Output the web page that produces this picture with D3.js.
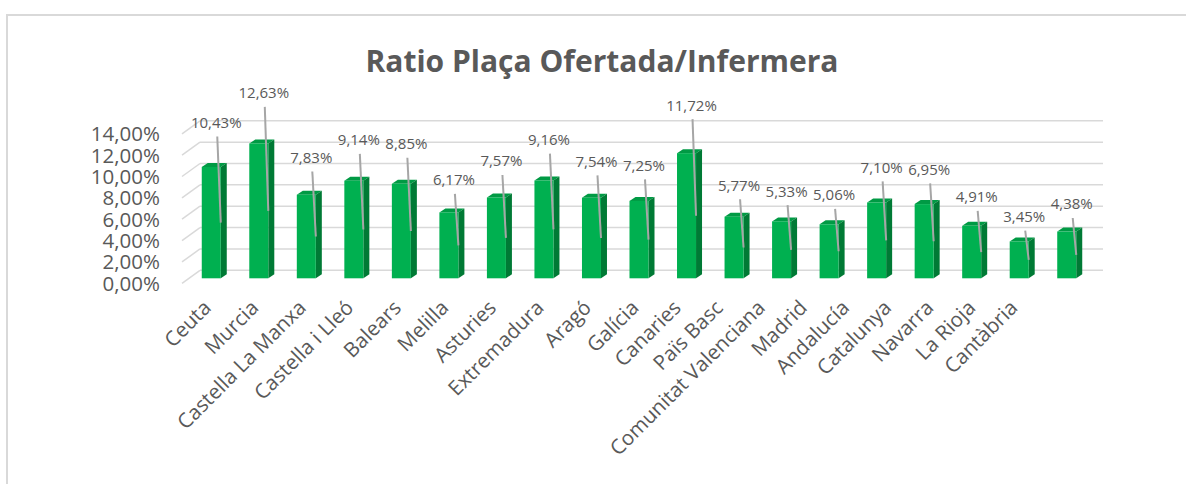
<!DOCTYPE html>
<html>
<head>
<meta charset="utf-8">
<script src="https://cdn.jsdelivr.net/npm/d3@7"></script>
<style>
  body { margin: 0; background: #fff; }
  text { font-family: "Open Sans", sans-serif; fill: #595959; }
</style>
</head>
<body>
<script>
// chart data
const categories = ["Ceuta", "Murcia", "Castella La Manxa", "Castella i Lleó", "Balears", "Melilla",
  "Asturies", "Extremadura", "Aragó", "Galícia", "Canaries", "Païs Basc", "Comunitat Valenciana",
  "Madrid", "Andalucía", "Catalunya", "Navarra", "La Rioja", "Cantàbria"];
const values = [10.43, 12.63, 7.83, 9.14, 8.85, 6.17, 7.57, 9.16, 7.54, 7.25, 11.72, 5.77, 5.33,
  5.06, 7.10, 6.95, 4.91, 3.45, 4.38];
const yTicks = [0, 2, 4, 6, 8, 10, 12, 14];
const title = "Ratio Plaça Ofertada/Infermera";

draw();

function draw() {
  var width = 1186, height = 484,
    depthX = 6, depthY = 4,     // bar 3d depth
    wallDx = 12.5, wallDy = -8; // back wall offset

  var fmt = function (v) { return d3.format(".2f")(v).replace(".", ",") + "%"; };

  var svg = d3.select("body").append("svg")
    .attr("width", width)
    .attr("height", height);

  // chart border
  svg.append("rect")
    .attr("x", 7).attr("y", 15)
    .attr("width", 1300).attr("height", 600)
    .attr("fill", "none")
    .attr("stroke", "#d9d9d9")
    .attr("stroke-width", 2);

  var x = d3.scaleBand()
    .domain(categories)
    .range([187.5, 1090.5])
    .paddingInner(0.6)
    .paddingOuter(0.3);

  var y = d3.scaleLinear().domain([0, 14]).range([278.3, 128.8]);
  // data labels sit higher the taller the bar
  var yLabel = d3.scaleLinear().domain([0, 14]).range([263, 74.4]);

  var bw = x.bandwidth();
  var x0 = x(categories[0]) - wallDx / 2;

  // back wall gridlines
  var grid = svg.append("g");
  grid.selectAll(".grid")
    .data(yTicks)
    .enter()
    .append("line")
    .attr("x1", 200)
    .attr("x2", 1103)
    .attr("y1", function (d) { return y(d) + wallDy; })
    .attr("y2", function (d) { return y(d) + wallDy; })
    .attr("stroke", "#d9d9d9")
    .attr("stroke-width", 1.5);

  grid.selectAll(".diag")
    .data(yTicks)
    .enter()
    .append("line")
    .attr("x1", 182)
    .attr("x2", 200)
    .attr("y1", function (d) { return y(d) + 5; })
    .attr("y2", function (d) { return y(d) + wallDy; })
    .attr("stroke", "#d9d9d9")
    .attr("stroke-width", 1.5);

  // y axis labels
  svg.selectAll(".ylab")
    .data(yTicks)
    .enter()
    .append("text")
    .attr("x", 160)
    .attr("y", function (d) { return y(d) + 5; })
    .attr("dy", "0.36em")
    .attr("text-anchor", "end")
    .style("font-size", "20.5px")
    .text(fmt);

  var bars = categories.map(function (c, i) { return { name: c, value: values[i], i: i }; });

  var g = svg.selectAll(".bar")
    .data(bars)
    .enter()
    .append("g");

  // top face
  g.append("path")
    .attr("d", function (d) {
      var l = x(d.name), r = l + bw, t = y(d.value);
      return "M" + l + "," + t + "L" + (l + depthX) + "," + (t - depthY) +
        "L" + (r + depthX) + "," + (t - depthY) + "L" + r + "," + t + "Z";
    })
    .attr("fill", "#009a44");

  // side face
  g.append("path")
    .attr("d", function (d) {
      var r = x(d.name) + bw, t = y(d.value), b = y(0);
      return "M" + r + "," + t + "L" + (r + depthX) + "," + (t - depthY) +
        "L" + (r + depthX) + "," + (b - depthY) + "L" + r + "," + b + "Z";
    })
    .attr("fill", "#007a35");

  // front face
  g.append("rect")
    .attr("x", function (d) { return x(d.name); })
    .attr("y", function (d) { return y(d.value); })
    .attr("width", bw)
    .attr("height", function (d) { return y(0) - y(d.value); })
    .attr("fill", "#00b050");

  // leader lines
  g.append("line")
    .attr("x1", function (d) { return x(d.name) + bw / 2 + 6; })
    .attr("y1", function (d) { return yLabel(d.value) + 14; })
    .attr("x2", function (d) { return x(d.name) + bw; })
    .attr("y2", function (d) { return y(d.value / 2); })
    .attr("stroke", "#a6a6a6")
    .attr("stroke-width", 2);

  // data labels
  g.append("text")
    .attr("x", function (d) { return x(d.name) + bw / 2 + 5; })
    .attr("y", function (d) { return yLabel(d.value); })
    .attr("dy", "0.36em")
    .attr("text-anchor", "middle")
    .style("font-size", "15px")
    .text(function (d) { return fmt(d.value); });

  // category labels (the right half is packed tighter, as in the original)
  var pivot = 9, tightStep = 42.1;
  var labelX = function (d) {
    if (d.i <= pivot) return x(d.name) + bw / 2;
    return x(categories[pivot]) + bw / 2 + (d.i - pivot) * tightStep;
  };

  svg.selectAll(".xlab")
    .data(bars)
    .enter()
    .append("text")
    .attr("text-anchor", "end")
    .attr("transform", function (d) {
      return "translate(" + (labelX(d) + 1) + ",309) rotate(-45)";
    })
    .style("font-size", "20.5px")
    .text(function (d) { return d.name; });

  // title
  svg.append("text")
    .attr("x", 602)
    .attr("y", 72)
    .attr("text-anchor", "middle")
    .style("font-size", "30px")
    .style("font-weight", "bold")
    .text(title);
}
</script>
</body>
</html>
